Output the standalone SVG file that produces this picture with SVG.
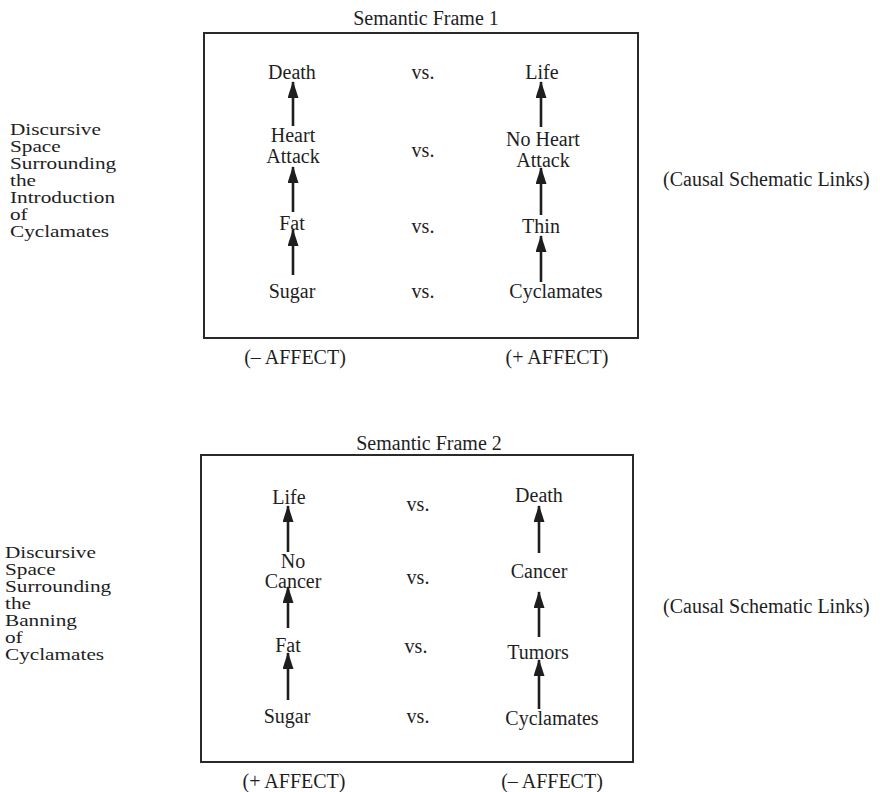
<svg xmlns="http://www.w3.org/2000/svg" width="880" height="792" viewBox="0 0 880 792">
<defs>
<marker id="ah" markerWidth="17" markerHeight="11" refX="16" refY="5.5" orient="auto" markerUnits="userSpaceOnUse">
<path d="M0,0 L17,5.5 L0,11 Z" fill="#1e1e1e"/>
</marker>
</defs>
<style>
text{font-family:"Liberation Serif","Times New Roman",serif;fill:#1e1e1e}
.n{font-size:20px;text-anchor:middle}
.c{font-size:20px}
.side{font-size:17px}
.frame{fill:none;stroke:#2a2a2a;stroke-width:2}
.arr{stroke:#1e1e1e;stroke-width:2.6;fill:none;marker-end:url(#ah)}
</style>
<rect width="880" height="792" fill="#fff"/>

<g id="frame1">
<text class="n" x="426" y="25">Semantic Frame 1</text>
<rect class="frame" x="204" y="33" width="434" height="305"/>
</g>
<g id="f1-death"><text class="n" x="292" y="79">Death</text></g>
<g id="f1-vs1"><text class="n" x="423" y="79">vs.</text></g>
<g id="f1-life"><text class="n" x="542" y="79">Life</text></g>
<g id="f1-heart"><text class="n" x="293" y="142">Heart</text><text class="n" x="293" y="163">Attack</text></g>
<g id="f1-vs2"><text class="n" x="423" y="157">vs.</text></g>
<g id="f1-noheart"><text class="n" x="543" y="146">No Heart</text><text class="n" x="543" y="167">Attack</text></g>
<g id="f1-fat"><text class="n" x="292" y="230">Fat</text></g>
<g id="f1-vs3"><text class="n" x="423" y="233">vs.</text></g>
<g id="f1-thin"><text class="n" x="541" y="233">Thin</text></g>
<g id="f1-sugar"><text class="n" x="292" y="298">Sugar</text></g>
<g id="f1-vs4"><text class="n" x="423" y="298">vs.</text></g>
<g id="f1-cyc"><text class="n" x="556" y="298">Cyclamates</text></g>
<g id="f1-neg"><text class="n" x="295" y="364">(– AFFECT)</text></g>
<g id="f1-pos"><text class="n" x="557" y="364">(+ AFFECT)</text></g>
<g id="side1" transform="translate(10,0) scale(1.25,1)"><text class="side" x="0" y="135">Discursive</text><text class="side" x="0" y="152">Space</text><text class="side" x="0" y="169">Surrounding</text><text class="side" x="0" y="186">the</text><text class="side" x="0" y="203">Introduction</text><text class="side" x="0" y="220">of</text><text class="side" x="0" y="237">Cyclamates</text></g>
<g id="causal1"><text class="c" x="663" y="186">(Causal Schematic Links)</text></g>

<g id="frame2">
<text class="n" x="429" y="450">Semantic Frame 2</text>
<rect class="frame" x="201" y="455" width="432" height="307"/>
</g>
<g id="f2-life"><text class="n" x="289" y="504">Life</text></g>
<g id="f2-vs1"><text class="n" x="418" y="511">vs.</text></g>
<g id="f2-death"><text class="n" x="539" y="502">Death</text></g>
<g id="f2-nocancer"><text class="n" x="293" y="568">No</text><text class="n" x="293" y="588">Cancer</text></g>
<g id="f2-vs2"><text class="n" x="418" y="584">vs.</text></g>
<g id="f2-cancer"><text class="n" x="539" y="578">Cancer</text></g>
<g id="f2-fat"><text class="n" x="288" y="652">Fat</text></g>
<g id="f2-vs3"><text class="n" x="416" y="653">vs.</text></g>
<g id="f2-tumors"><text class="n" x="538" y="659">Tumors</text></g>
<g id="f2-sugar"><text class="n" x="287" y="723">Sugar</text></g>
<g id="f2-vs4"><text class="n" x="418" y="723">vs.</text></g>
<g id="f2-cyc"><text class="n" x="552" y="725">Cyclamates</text></g>
<g id="f2-pos"><text class="n" x="294" y="788">(+ AFFECT)</text></g>
<g id="f2-neg"><text class="n" x="552" y="788">(– AFFECT)</text></g>
<g id="side2" transform="translate(5,0) scale(1.25,1)"><text class="side" x="0" y="558">Discursive</text><text class="side" x="0" y="575">Space</text><text class="side" x="0" y="592">Surrounding</text><text class="side" x="0" y="609">the</text><text class="side" x="0" y="626">Banning</text><text class="side" x="0" y="643">of</text><text class="side" x="0" y="660">Cyclamates</text></g>
<g id="causal2"><text class="c" x="663" y="613">(Causal Schematic Links)</text></g>

<g id="connectors">
<line class="arr" x1="293" y1="126" x2="293" y2="82"/>
<line class="arr" x1="293" y1="212" x2="293" y2="167"/>
<line class="arr" x1="293" y1="275" x2="293" y2="230"/>
<line class="arr" x1="541" y1="127" x2="541" y2="82"/>
<line class="arr" x1="541" y1="215" x2="541" y2="168"/>
<line class="arr" x1="541" y1="282" x2="541" y2="236"/>
<line class="arr" x1="288" y1="552" x2="288" y2="506"/>
<line class="arr" x1="288" y1="628" x2="288" y2="587"/>
<line class="arr" x1="288" y1="700" x2="288" y2="653"/>
<line class="arr" x1="539" y1="553" x2="539" y2="506"/>
<line class="arr" x1="539" y1="637" x2="539" y2="592"/>
<line class="arr" x1="539" y1="709" x2="539" y2="660"/>
</g>
</svg>
